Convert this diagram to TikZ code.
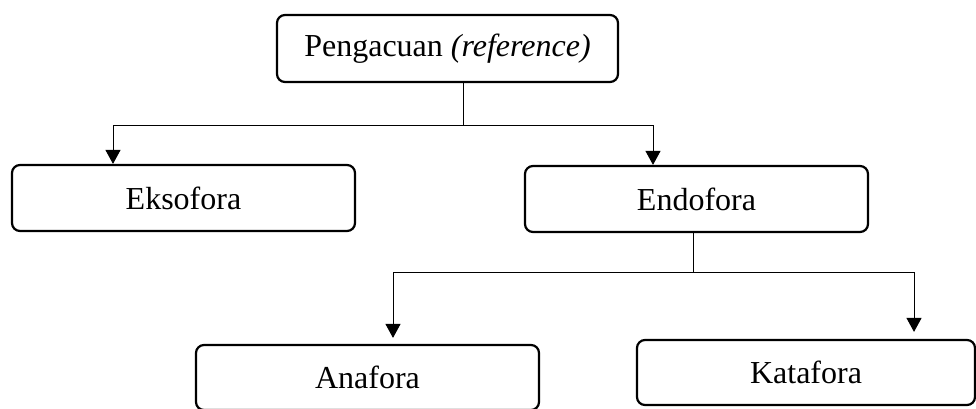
\documentclass[tikz,border=0pt]{standalone}
\usepackage{fontspec}
\setmainfont{Liberation Serif}
\usetikzlibrary{arrows.meta}
\begin{document}
\begin{tikzpicture}[x=1pt,y=-1pt,
  box/.style={draw, line width=2.2pt, rounded corners=8pt, fill=white,
              font=\fontsize{32}{38}\selectfont, inner sep=0pt},
  link/.style={line width=1pt},
  arrowlink/.style={link, -{Triangle[width=15pt,length=14pt]}}]
  \useasboundingbox (0,0) rectangle (976,408);
  \clip (0,0) rectangle (976,408);
  \fill[white] (0,0) rectangle (976,408);

  % boxes
  \node[box, minimum width=341pt, minimum height=67pt] (top) at (447.5,48.5) {Pengacuan \textit{(reference)}};
  \node[box, minimum width=343pt, minimum height=66pt] (eks) at (183.5,198) {Eksofora};
  \node[box, minimum width=343pt, minimum height=66pt] (endo) at (696.5,199) {Endofora};
  \node[box, minimum width=343pt, minimum height=65pt] (ana) at (367.5,377.5) {Anafora};
  \node[box, minimum width=338pt, minimum height=65pt] (kata) at (806,372.5) {Katafora};

  % junction points
  \coordinate (j1) at (463,125);
  \coordinate (l1) at (113,125);
  \coordinate (r1) at (653,125);
  \coordinate (j2) at (693,272);
  \coordinate (l2) at (393,272);
  \coordinate (r2) at (914,272);

  % first level
  \draw[link] (top.south -| j1) -- (j1);
  \draw[link] (l1) -- (r1);
  \draw[arrowlink] (l1) -- (l1 |- eks.north);
  \draw[arrowlink] (r1) -- (r1 |- endo.north);

  % second level
  \draw[link] (endo.south -| j2) -- (j2);
  \draw[link] (l2) -- (r2);
  \draw[arrowlink, shorten >=6pt] (l2) -- (l2 |- ana.north);
  \draw[arrowlink, shorten >=7pt] (r2) -- (r2 |- kata.north);
\end{tikzpicture}
\end{document}
